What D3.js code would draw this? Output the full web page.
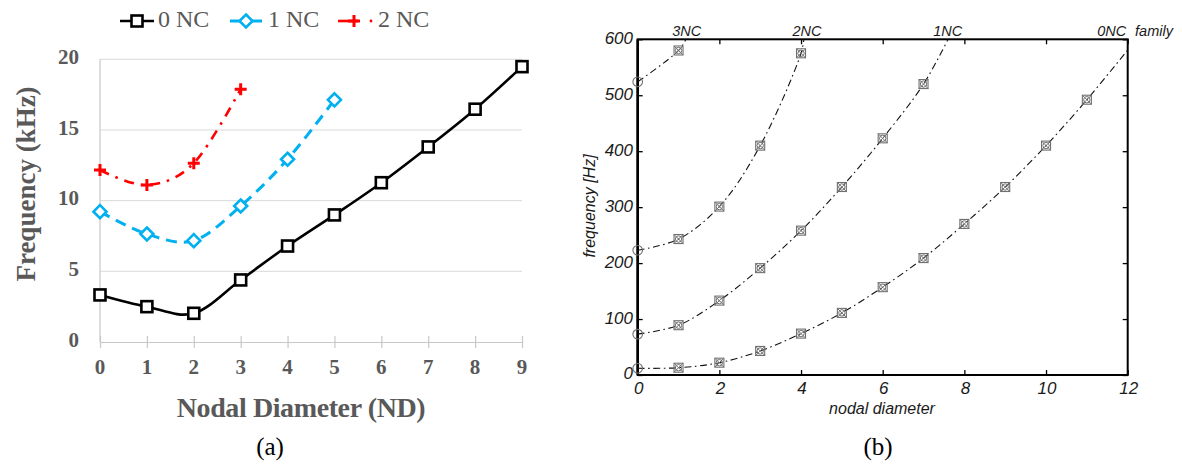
<!DOCTYPE html>
<html><head><meta charset="utf-8">
<script src="https://cdn.jsdelivr.net/npm/d3@7"></script>
<style>html,body{margin:0;padding:0;background:#fff;}svg{display:block;}</style>
</head><body>
<svg id="c" width="1182" height="466"></svg>
<script>
// ---------- Data: panel (a) ----------
const ndA = [0,1,2,3,4,5,6,7,8,9];
const nc0kHz = [3.33,2.5,2.03,4.39,6.79,8.99,11.27,13.8,16.47,19.48];
const nc1kHz = [9.22,7.64,7.17,9.62,12.93,17.13];
const nc2kHz = [12.17,11.11,12.65,17.88];
const yTicksA = [0,5,10,15,20];
const legendA = ["0 NC","1 NC","2 NC"];
// ---------- Data: panel (b) ----------
const fam0Hz = [12,13,22,43,74,111,157,209,270,336,410,492];
const fam1Hz = [73,89,133,191,258,336,423,520];
const fam2Hz = [223,243,301,410,575];
const fam3Hz = [524,580];
// where each fitted curve leaves the plot (nodal diameter, Hz)
const fam0End = [12,581];
const fam1End = [7.6,600];
const fam2End = [4.07,600];
const fam3End = [1.18,600];
const famLabels = ["3NC","2NC","1NC","0NC"];
const xTicksB = [0,2,4,6,8,10,12];
const yTicksB = [0,100,200,300,400,500,600];

const svg = d3.select("#c");
svg.append("rect").attr("width",1182).attr("height",466).attr("fill","#fff");

// ================= Panel (a) =================
const serif = "'Liberation Serif','DejaVu Serif',serif";
const grey = "#595959";
const xA = d3.scaleLinear().domain([0,9]).range([100,522]);
const yA = d3.scaleLinear().domain([0,20]).range([342,59.3]);
const gA = svg.append("g");

gA.selectAll("line.grid").data(yTicksA.filter(d=>d>0)).join("line")
  .attr("x1",xA(0)).attr("x2",xA(9)).attr("y1",d=>yA(d)).attr("y2",d=>yA(d))
  .attr("stroke","#d9d9d9").attr("stroke-width",1);
gA.append("line").attr("x1",xA(0)).attr("x2",xA(0)).attr("y1",yA(20)).attr("y2",yA(0))
  .attr("stroke","#c8c8c8").attr("stroke-width",1.2);
const xAxisA = d3.axisBottom(xA).tickValues(ndA).tickSize(0).tickFormat("");
const gxA = gA.append("g").attr("transform",`translate(0,${yA(0)})`).call(xAxisA);
gxA.select(".domain").attr("stroke","#c8c8c8").attr("stroke-width",1.2);
gxA.selectAll(".tick line").attr("y1",-6).attr("y2",6).attr("stroke","#c8c8c8").attr("stroke-width",1.2);
gA.selectAll("text.xt").data(ndA).join("text")
  .attr("x",d=>xA(d)).attr("y",369).attr("text-anchor","middle").attr("dominant-baseline","middle")
  .attr("font-family",serif).attr("font-weight","bold").attr("font-size",21).attr("fill",grey).text(d=>d);
gA.selectAll("text.yt").data(yTicksA).join("text")
  .attr("x",79).attr("y",d=>yA(d)).attr("text-anchor","end").attr("dominant-baseline","middle")
  .attr("font-family",serif).attr("font-weight","bold").attr("font-size",21).attr("fill",grey).text(d=>d);
gA.append("text").attr("x",301).attr("y",411).attr("text-anchor","middle").attr("dominant-baseline","middle")
  .attr("font-family",serif).attr("font-weight","bold").attr("font-size",28).attr("letter-spacing",-0.4)
  .attr("fill",grey).text("Nodal Diameter (ND)");
gA.append("text").attr("transform","translate(29,184) rotate(-90)").attr("text-anchor","middle")
  .attr("dominant-baseline","middle").attr("font-family",serif).attr("font-weight","bold").attr("font-size",27)
  .attr("fill",grey).text("Frequency (kHz)");
gA.append("text").attr("x",270).attr("y",449).attr("text-anchor","middle").attr("dominant-baseline","middle")
  .attr("font-family",serif).attr("font-size",25).attr("fill","#000").text("(a)");

const lineA = d3.line().x((d,i)=>xA(i)).y(d=>yA(d)).curve(d3.curveCatmullRom.alpha(0));
const seriesA = [
  {vals:nc0kHz, color:"#000", dash:null, w:2.6, marker:"square"},
  {vals:nc1kHz, color:"#00b0f0", dash:"11,7", w:3, marker:"diamond"},
  {vals:nc2kHz, color:"#ff0000", dash:"10,7,2.5,7", w:2.6, marker:"plus"}
];
function drawMarker(g, type, x, y, color){
  if(type==="square"){
    g.append("rect").attr("x",x-5.5).attr("y",y-5.5).attr("width",11).attr("height",11)
      .attr("fill","#fff").attr("stroke",color).attr("stroke-width",2.6);
  } else if(type==="diamond"){
    g.append("path").attr("d",`M${x},${y-6.5}L${x+6.5},${y}L${x},${y+6.5}L${x-6.5},${y}Z`)
      .attr("fill","#fff").attr("stroke",color).attr("stroke-width",2.6);
  } else {
    g.append("path").attr("d",`M${x-6},${y}H${x+6}M${x},${y-6}V${y+6}`)
      .attr("fill","none").attr("stroke",color).attr("stroke-width",3);
  }
}
seriesA.forEach(s=>{
  gA.append("path").attr("d",lineA(s.vals)).attr("fill","none").attr("stroke",s.color)
    .attr("stroke-width",s.w).attr("stroke-dasharray",s.dash);
  s.vals.forEach((v,i)=>drawMarker(gA,s.marker,xA(i),yA(v),s.color));
});
// legend
const legX = [[120,154,158],[230,262,268],[338,366,378]];
seriesA.forEach((s,i)=>{
  const [x1,x2,tx]=legX[i];
  if(i===2){
    gA.append("line").attr("x1",x1).attr("x2",x1+11).attr("y1",21).attr("y2",21).attr("stroke",s.color).attr("stroke-width",s.w);
    gA.append("line").attr("x1",x1+11).attr("x2",x1+20).attr("y1",21).attr("y2",21).attr("stroke",s.color).attr("stroke-width",s.w);
    gA.append("circle").attr("cx",x1+33).attr("cy",21).attr("r",1.4).attr("fill",s.color);
    drawMarker(gA,s.marker,x1+16,21,s.color);
  } else {
    gA.append("line").attr("x1",x1).attr("x2",x2).attr("y1",21).attr("y2",21).attr("stroke",s.color)
      .attr("stroke-width",s.w);
    drawMarker(gA,s.marker,(x1+x2)/2,21,s.color);
  }
  gA.append("text").attr("x",tx).attr("y",21).attr("dominant-baseline","middle")
    .attr("font-family",serif).attr("font-size",24).attr("fill",grey).text(legendA[i]);
});

// ================= Panel (b) =================
const sans = "'Liberation Sans',Arial,sans-serif";
const xB = d3.scaleLinear().domain([0,12]).range([637.7,1127.7]);
const yB = d3.scaleLinear().domain([0,600]).range([375,39.3]);
const gB = svg.append("g");
const clip = svg.append("defs").append("clipPath").attr("id","clipB");
clip.append("rect").attr("x",xB(0)).attr("y",yB(600)).attr("width",xB(12)-xB(0)).attr("height",yB(0)-yB(600));

const tickLen = 5;
[ [d3.axisBottom(xB),`translate(0,${yB(0)})`,"x",-1],
  [d3.axisTop(xB),`translate(0,${yB(600)})`,"x",1],
  [d3.axisLeft(yB),`translate(${xB(0)},0)`,"y",1],
  [d3.axisRight(yB),`translate(${xB(12)},0)`,"y",-1] ].forEach(([ax,tr,dir,sg])=>{
  const a = ax.tickSize(0).tickFormat("");
  if(dir==="x") a.tickValues(xTicksB); else a.tickValues(yTicksB);
  const g = gB.append("g").attr("transform",tr).call(a);
  g.select(".domain").remove();
  if(dir==="x") g.selectAll(".tick line").attr("y2",sg*tickLen).attr("stroke","#000").attr("stroke-width",1.3);
  else g.selectAll(".tick line").attr("x2",sg*tickLen).attr("stroke","#000").attr("stroke-width",1.3);
});
gB.append("rect").attr("x",xB(0)).attr("y",yB(600)).attr("width",xB(12)-xB(0)).attr("height",yB(0)-yB(600))
  .attr("fill","none").attr("stroke","#000").attr("stroke-width",2);
gB.append("line").attr("x1",xB(0)).attr("x2",xB(0)).attr("y1",yB(600)).attr("y2",yB(0))
  .attr("stroke","#000").attr("stroke-width",2.6);

gB.selectAll("text.xt").data(xTicksB).join("text")
  .attr("x",d=>xB(d)+1).attr("y",390).attr("text-anchor","middle").attr("dominant-baseline","middle")
  .attr("font-family",sans).attr("font-style","italic").attr("font-size",17).attr("fill","#1a1a1a").text(d=>d);
gB.selectAll("text.yt").data(yTicksB).join("text")
  .attr("x",633).attr("y",d=>yB(d)).attr("text-anchor","end").attr("dominant-baseline","middle")
  .attr("font-family",sans).attr("font-style","italic").attr("font-size",17).attr("fill","#1a1a1a").text(d=>d);
gB.append("text").attr("x",882).attr("y",410).attr("text-anchor","middle").attr("dominant-baseline","middle")
  .attr("font-family",sans).attr("font-style","italic").attr("font-size",16).attr("fill","#1a1a1a").text("nodal diameter");
gB.append("text").attr("transform","translate(591,206) rotate(-90)").attr("text-anchor","middle")
  .attr("dominant-baseline","middle").attr("font-family",sans).attr("font-style","italic").attr("font-size",16)
  .attr("fill","#1a1a1a").text("frequency [Hz]");
const famX = [686.7,807,947.7,1111.7];
famLabels.forEach((t,i)=>{
  gB.append("text").attr("x",famX[i]).attr("y",32).attr("text-anchor","middle").attr("dominant-baseline","middle")
    .attr("font-family",sans).attr("font-style","italic").attr("font-size",14.5).attr("fill","#1a1a1a").text(t);
});
gB.append("text").attr("x",1154).attr("y",32).attr("text-anchor","middle").attr("dominant-baseline","middle")
  .attr("font-family",sans).attr("font-style","italic").attr("font-size",14.5).attr("fill","#1a1a1a").text("family");
gB.append("text").attr("x",878).attr("y",449).attr("text-anchor","middle").attr("dominant-baseline","middle")
  .attr("font-family",serif).attr("font-size",25).attr("fill","#000").text("(b)");

const lineB = d3.line().x(d=>xB(d[0])).y(d=>yB(d[1])).curve(d3.curveCatmullRom.alpha(0.5));
const famsB = [[fam0Hz,fam0End],[fam1Hz,fam1End],[fam2Hz,fam2End],[fam3Hz,fam3End]];
const gLines = gB.append("g").attr("clip-path","url(#clipB)");
const mg = "#707070";
famsB.forEach(([vals,end])=>{
  const pts = vals.map((v,i)=>[i,v]).concat([end]);
  gLines.append("path").attr("d",lineB(pts)).attr("fill","none").attr("stroke","#111")
    .attr("stroke-width",1.1).attr("stroke-dasharray","7,3.5,1.6,3.5");
  vals.forEach((v,i)=>{
    const x=xB(i), y=yB(v);
    if(i===0){
      gB.append("circle").attr("cx",x).attr("cy",y).attr("r",4.8).attr("fill","none").attr("stroke",mg).attr("stroke-width",1.1);
    } else {
      gB.append("rect").attr("x",x-4.5).attr("y",y-4.5).attr("width",9).attr("height",9)
        .attr("fill","none").attr("stroke",mg).attr("stroke-width",1.1);
      gB.append("circle").attr("cx",x).attr("cy",y).attr("r",3.2).attr("fill","none").attr("stroke",mg).attr("stroke-width",1);
      gB.append("path").attr("d",`M${x-4.5},${y-4.5}L${x+4.5},${y+4.5}M${x+4.5},${y-4.5}L${x-4.5},${y+4.5}`)
        .attr("stroke",mg).attr("stroke-width",1);
    }
  });
});
</script>
</body></html>
